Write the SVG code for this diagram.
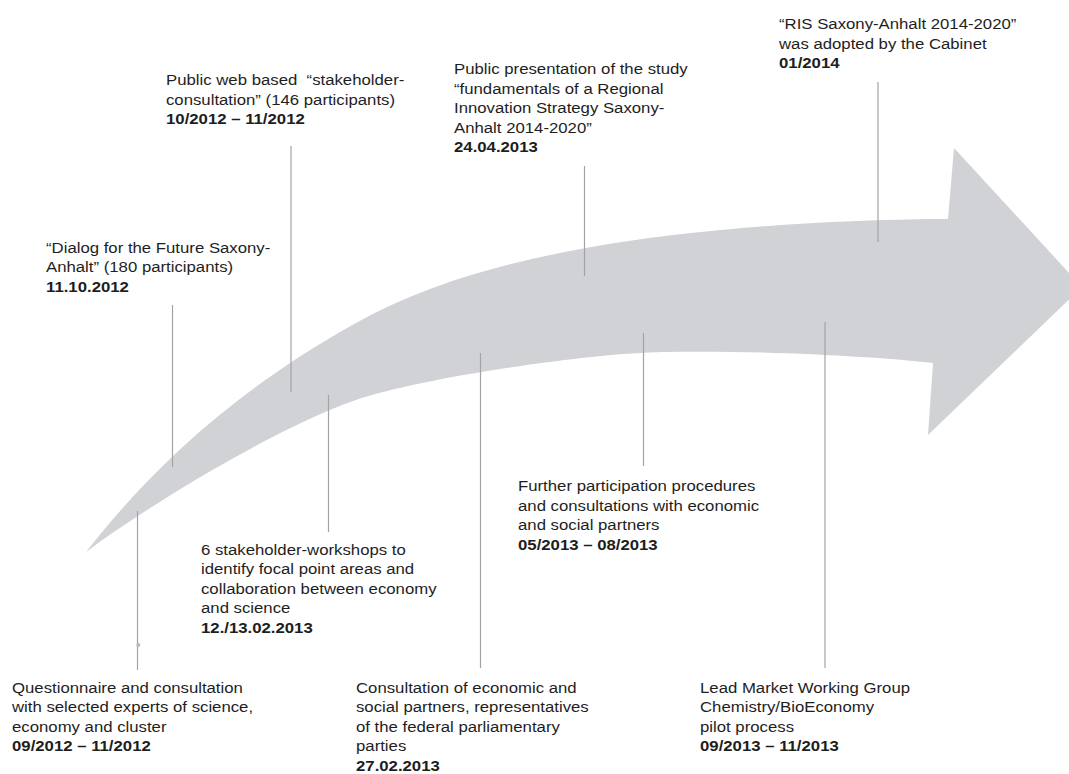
<svg xmlns="http://www.w3.org/2000/svg" width="1069" height="774" viewBox="0 0 1069 774">
<style>
text{font-family:"Liberation Sans",Arial,sans-serif;font-size:15.1px;fill:#1e1e1e}
.b{font-weight:bold}
.c{stroke:#a3a3a6;stroke-width:1.2;fill:none}
</style>
<rect width="1069" height="774" fill="#ffffff"/>
<g id="arrow">
<path d="M86,552 C150,470 235,390 356,323 C430,282 510,262 586,248 C706,226 860,219 948,219 L954,148 L1082,287 L928,435 L933,363 C880,357 760,350 663,352 C590,353 420,378 356,400 C276,427.5 146,507 86,552 Z" fill="#d1d2d6"/>
</g>
<g id="connectors">
<line class="c" x1="137.5" y1="511" x2="137.5" y2="670"/>
<line class="c" x1="172.5" y1="305" x2="172.5" y2="467"/>
<line class="c" x1="291" y1="146" x2="291" y2="392"/>
<line class="c" x1="328.5" y1="395" x2="328.5" y2="532"/>
<line class="c" x1="480.5" y1="353" x2="480.5" y2="668"/>
<line class="c" x1="584.5" y1="166" x2="584.5" y2="276"/>
<line class="c" x1="643.5" y1="333" x2="643.5" y2="466"/>
<line class="c" x1="825" y1="322" x2="825" y2="668"/>
<line class="c" x1="878" y1="82" x2="878" y2="242"/>
<circle cx="138.3" cy="645" r="2" fill="#b8b9c4"/>
</g>
<g id="node-ris" transform="translate(779,29) scale(1.11,1)">
<text><tspan x="0" y="0">“RIS Saxony-Anhalt 2014-2020”</tspan><tspan x="0" y="19.7">was adopted by the Cabinet</tspan><tspan class="b" x="0" y="39.5">01/2014</tspan></text>
</g>
<g id="node-presentation" transform="translate(454,74) scale(1.11,1)">
<text><tspan x="0" y="0">Public presentation of the study</tspan><tspan x="0" y="19.6">“fundamentals of a Regional</tspan><tspan x="0" y="39.2">Innovation Strategy Saxony-</tspan><tspan x="0" y="58.8">Anhalt 2014-2020”</tspan><tspan class="b" x="0" y="78.4">24.04.2013</tspan></text>
</g>
<g id="node-webconsultation" transform="translate(166,85) scale(1.11,1)">
<text><tspan x="0" y="0">Public web based &#160;“stakeholder-</tspan><tspan x="0" y="19.6">consultation” (146 participants)</tspan><tspan class="b" x="0" y="39.2">10/2012 – 11/2012</tspan></text>
</g>
<g id="node-dialog" transform="translate(46,253) scale(1.11,1)">
<text><tspan x="0" y="0">“Dialog for the Future Saxony-</tspan><tspan x="0" y="19.5">Anhalt” (180 participants)</tspan><tspan class="b" x="0" y="39">11.10.2012</tspan></text>
</g>
<g id="node-workshops" transform="translate(201,555) scale(1.11,1)">
<text><tspan x="0" y="0">6 stakeholder-workshops to</tspan><tspan x="0" y="19.5">identify focal point areas and</tspan><tspan x="0" y="39">collaboration between economy</tspan><tspan x="0" y="58.5">and science</tspan><tspan class="b" x="0" y="78">12./13.02.2013</tspan></text>
</g>
<g id="node-further" transform="translate(518,491) scale(1.11,1)">
<text><tspan x="0" y="0">Further participation procedures</tspan><tspan x="0" y="19.6">and consultations with economic</tspan><tspan x="0" y="39.2">and social partners</tspan><tspan class="b" x="0" y="58.8">05/2013 – 08/2013</tspan></text>
</g>
<g id="node-questionnaire" transform="translate(12,693) scale(1.11,1)">
<text><tspan x="0" y="0">Questionnaire and consultation</tspan><tspan x="0" y="19.5">with selected experts of science,</tspan><tspan x="0" y="39">economy and cluster</tspan><tspan class="b" x="0" y="58.5">09/2012 – 11/2012</tspan></text>
</g>
<g id="node-consultation" transform="translate(356,693) scale(1.11,1)">
<text><tspan x="0" y="0">Consultation of economic and</tspan><tspan x="0" y="19.5">social partners, representatives</tspan><tspan x="0" y="39">of the federal parliamentary</tspan><tspan x="0" y="58.5">parties</tspan><tspan class="b" x="0" y="78">27.02.2013</tspan></text>
</g>
<g id="node-leadmarket" transform="translate(700,693) scale(1.11,1)">
<text><tspan x="0" y="0">Lead Market Working Group</tspan><tspan x="0" y="19.5">Chemistry/BioEconomy</tspan><tspan x="0" y="39">pilot process</tspan><tspan class="b" x="0" y="58.5">09/2013 – 11/2013</tspan></text>
</g>
</svg>
